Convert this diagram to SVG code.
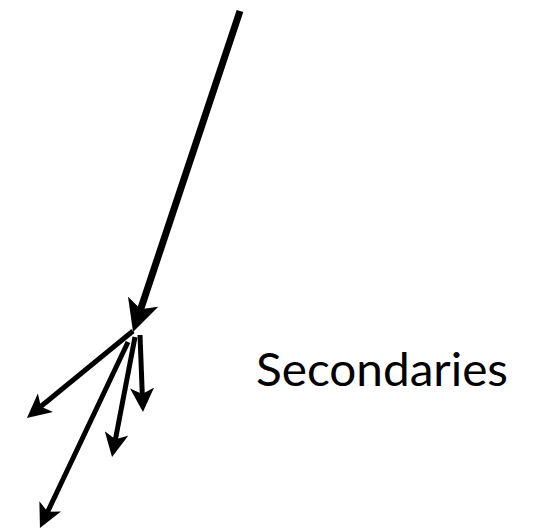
<svg xmlns="http://www.w3.org/2000/svg" width="538" height="531" viewBox="0 0 538 531">
  <style>
    .main { stroke: #000; stroke-width: 7; fill: none; marker-end: url(#headBig); }
    .sec { stroke: #000; stroke-width: 5; fill: none; marker-end: url(#headSmall); }
    .label { font-family: "Lato", "Open Sans", sans-serif; font-size: 46px; fill: #000; }
  </style>
  <defs>
    <marker id="headBig" markerUnits="userSpaceOnUse" viewBox="0 0 32 32" markerWidth="32" markerHeight="32" refX="16" refY="16" orient="auto">
      <path d="M32,16 L0,0 L8,16 L0,32 Z" fill="#000"/>
    </marker>
    <marker id="headSmall" markerUnits="userSpaceOnUse" viewBox="0 0 24 24" markerWidth="24" markerHeight="24" refX="12" refY="12" orient="auto">
      <path d="M24,12 L0,0 L6,12 L0,24 Z" fill="#000"/>
    </marker>
  </defs>
  <rect width="538" height="531" fill="#fff"/>
  <g id="connectors">
    <line class="main" x1="240" y1="11" x2="138.1" y2="316.8"/>
    <line class="sec" x1="133" y1="331" x2="36.2" y2="410.3"/>
    <line class="sec" x1="128" y1="342" x2="45.1" y2="517.2"/>
    <line class="sec" x1="135" y1="337" x2="114.3" y2="445.2"/>
    <line class="sec" x1="140" y1="335" x2="142.5" y2="400"/>
  </g>
  <g id="secondaries">
    <text class="label" x="256" y="386" textLength="252" lengthAdjust="spacingAndGlyphs">Secondaries</text>
  </g>
</svg>
